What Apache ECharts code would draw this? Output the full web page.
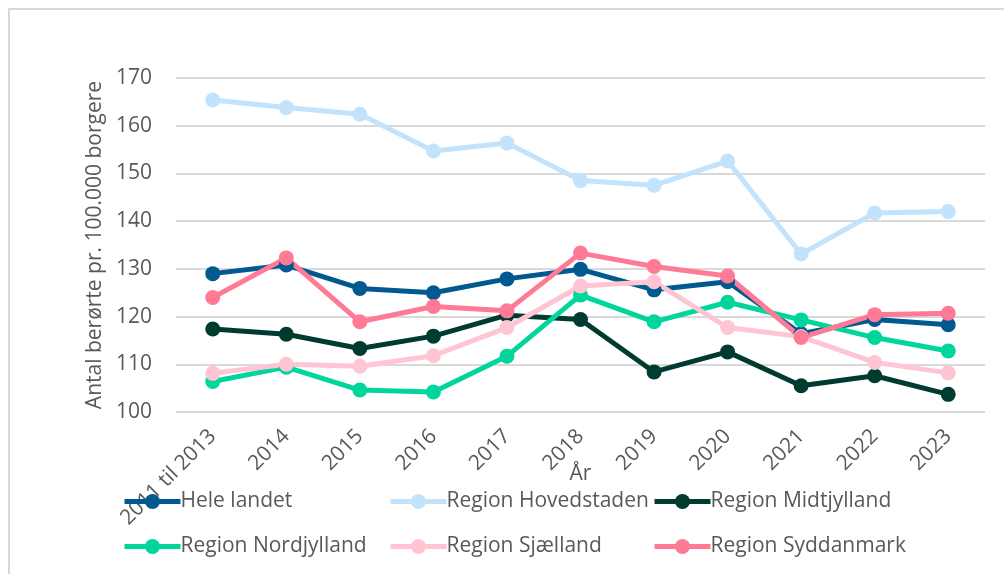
<!DOCTYPE html>
<html>
<head>
<meta charset="utf-8">
<script src="https://cdn.jsdelivr.net/npm/echarts@6/dist/echarts.min.js"></script>
<style>
    html, body { margin: 0; padding: 0; background: #fff; }
    #chart { width: 1004px; height: 574px; }
</style>
</head>
<body>
<div id="chart"></div>
<script>
    // categories (År)
    const years = ["2011 til 2013", "2014", "2015", "2016", "2017", "2018", "2019", "2020", "2021", "2022", "2023"];

    const seriesNames = ["Hele landet", "Region Hovedstaden", "Region Midtjylland", "Region Nordjylland", "Region Sjælland", "Region Syddanmark"];
    const seriesColors = ["#005A8F", "#C2E3FB", "#003B2F", "#00D69B", "#FFC5D2", "#FF7A95"];

    const heleLandet   = [129.0, 130.8, 125.9, 125.0, 127.9, 129.9, 125.6, 127.3, 116.4, 119.4, 118.3];
    const hovedstaden  = [165.4, 163.8, 162.4, 154.7, 156.4, 148.5, 147.5, 152.6, 133.1, 141.7, 142.0];
    const midtjylland  = [117.4, 116.3, 113.3, 115.9, 120.3, 119.4, 108.4, 112.6, 105.5, 107.6, 103.7];
    const nordjylland  = [106.4, 109.4, 104.6, 104.2, 111.7, 124.5, 118.9, 123.0, 119.3, 115.6, 112.8];
    const sjaelland    = [108.1, 110.0, 109.6, 111.8, 117.7, 126.4, 127.3, 117.7, 115.8, 110.4, 108.2];
    const syddanmark   = [124.0, 132.3, 118.9, 122.1, 121.2, 133.3, 130.5, 128.5, 115.6, 120.4, 120.7];

    const seriesValues = [heleLandet, hovedstaden, midtjylland, nordjylland, sjaelland, syddanmark];

    // y axis ticks
    const yMin = 100;
    const yMax = 170;
    const yStep = 10;

    const font = "Open Sans";
    const textColor = "#595959";

    // legend grid: 3 columns, 2 rows
    const legendCols = [117, 383, 647];
    const legendRows = [486, 531];

    const myChart = echarts.init(document.getElementById("chart"));

    const option = {
        backgroundColor: "#fff",
        animation: false,
        textStyle: { fontFamily: font },
        graphic: [
            {
                type: "rect",
                shape: { x: 9, y: 9, width: 1020, height: 600 },
                style: { fill: "none", stroke: "#D9D9D9", lineWidth: 2 },
                silent: true,
            },
        ],
        legend: seriesNames.map((name, i) => ({
            data: [name],
            left: legendCols[i % 3],
            top: legendRows[Math.floor(i / 3)],
            itemWidth: 56,
            itemHeight: 19,
            itemGap: 0,
            lineStyle: { width: 5 },
            textStyle: {
                fontFamily: font,
                fontSize: 21,
                color: textColor,
                padding: [0, 0, 0, -5],
            },
        })),
        grid: {
            left: 176,
            right: 19,
            top: 78,
            bottom: 162,
        },
        xAxis: {
            type: "category",
            data: years,
            boundaryGap: true,
            name: "År",
            nameLocation: "middle",
            nameGap: 52,
            nameMoveOverlap: false,
            nameTextStyle: {
                fontFamily: font,
                fontSize: 21,
                color: textColor,
            },
            axisLine: { show: false },
            axisTick: { show: false },
            axisLabel: {
                rotate: 45,
                fontFamily: font,
                fontSize: 21,
                color: textColor,
                margin: 21,
                interval: 0,
            },
        },
        yAxis: {
            type: "value",
            min: yMin,
            max: yMax,
            interval: yStep,
            name: "Antal berørte pr. 100.000 borgere",
            nameLocation: "middle",
            nameGap: 70,
            nameTextStyle: {
                fontFamily: font,
                fontSize: 21,
                color: textColor,
            },
            axisLine: { show: false },
            axisTick: { show: false },
            axisLabel: {
                fontFamily: font,
                fontSize: 21,
                color: textColor,
                margin: 24,
            },
            splitLine: {
                lineStyle: { color: "#D9D9D9", width: 2 },
            },
        },
        series: seriesNames.map((name, i) => ({
            name: name,
            type: "line",
            data: seriesValues[i],
            color: seriesColors[i],
            symbol: "circle",
            symbolSize: 15,
            lineStyle: { width: 5, color: seriesColors[i] },
            itemStyle: { color: seriesColors[i] },
        })),
    };

    myChart.setOption(option);
</script>
</body>
</html>
